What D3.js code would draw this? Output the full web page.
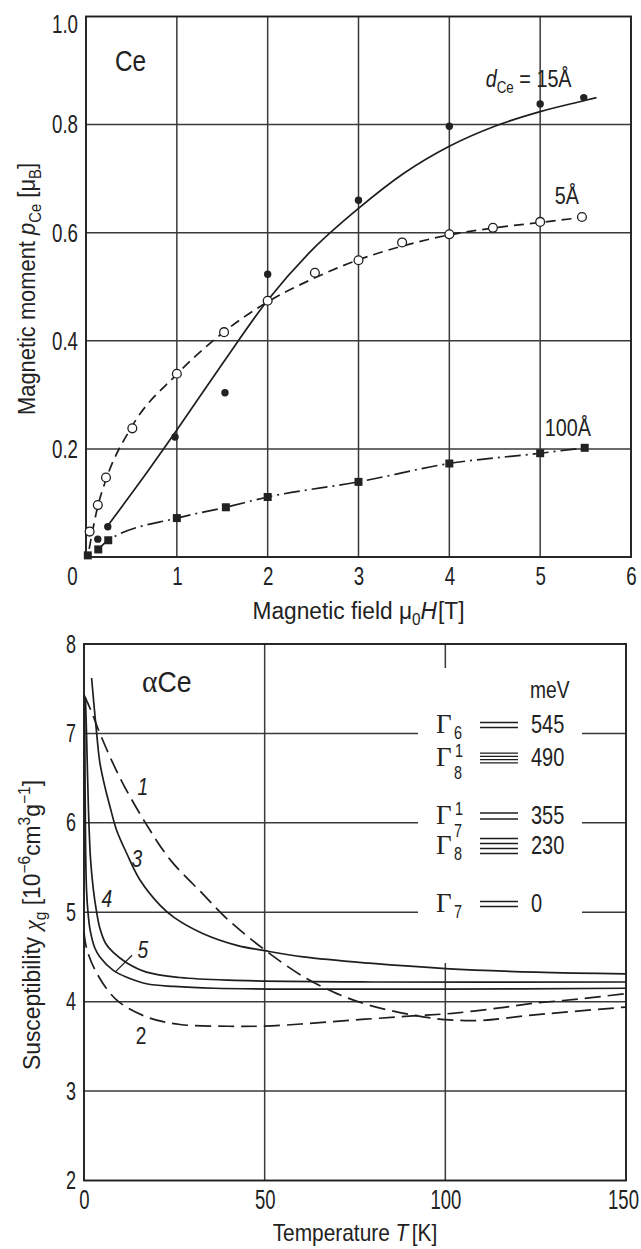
<!DOCTYPE html>
<html>
<head>
<meta charset="utf-8">
<script src="https://cdn.jsdelivr.net/npm/d3@7"></script>
<style>
  body { margin: 0; background: #fff; }
  svg text { font-family: "Liberation Sans", Arial, sans-serif; fill: #222; }
  svg text .serif, svg text.serif { font-family: "Liberation Serif", "DejaVu Serif", serif; }
</style>
</head>
<body>
<svg id="chart" width="641" height="1249"></svg>
<script>
// ---- top panel: Ce layers, moment vs field ----
const fieldTicks = [0, 1, 2, 3, 4, 5, 6];
const momentTicks = [0.2, 0.4, 0.6, 0.8, 1.0];

// d_Ce = 15 A, filled circles + solid fit
const d15H = [0.13, 0.24, 0.98, 1.53, 2, 3, 4, 5, 5.48];
const d15P = [0.033, 0.056, 0.222, 0.304, 0.523, 0.66, 0.797, 0.838, 0.85];
const d15FitH = [0.24, 0.6, 1, 1.5, 2, 2.5, 3, 3.5, 4, 4.5, 5, 5.5, 5.62];
const d15FitP = [0.058, 0.14, 0.235, 0.357, 0.475, 0.57, 0.645, 0.71, 0.76, 0.797, 0.824, 0.845, 0.85];

// d_Ce = 5 A, open circles + dashed fit
const d5H = [0.04, 0.13, 0.22, 0.51, 1, 1.52, 2, 2.52, 3, 3.48, 4, 4.48, 5, 5.46];
const d5P = [0.047, 0.096, 0.147, 0.238, 0.339, 0.416, 0.474, 0.526, 0.549, 0.582, 0.597, 0.609, 0.62, 0.629];
const d5FitH = [0.035, 0.13, 0.22, 0.5, 1, 1.5, 2, 2.5, 3, 3.5, 4, 4.5, 5, 5.46];
const d5FitP = [0.015, 0.094, 0.143, 0.24, 0.338, 0.414, 0.472, 0.515, 0.55, 0.576, 0.596, 0.609, 0.619, 0.628];

// d_Ce = 100 A, squares + dash-dot line
const d100H = [0.02, 0.135, 0.245, 1, 1.54, 2, 3, 4, 5, 5.49];
const d100P = [0.003, 0.014, 0.031, 0.072, 0.092, 0.111, 0.139, 0.173, 0.192, 0.202];

// ---- bottom panel: alpha-Ce susceptibility vs temperature ----
const tempTicks = [0, 50, 100, 150];
const chiTicks = [2, 3, 4, 5, 6, 7, 8];

const c1T = [0, 2, 4.4, 10, 17, 24, 33, 39.5, 50, 60.7, 70, 79, 91, 100, 110, 124, 150];
const c1X = [7.43, 7.25, 7.0, 6.5, 6.0, 5.58, 5.2, 4.93, 4.58, 4.28, 4.09, 3.96, 3.85, 3.80, 3.79, 3.85, 3.94];
const c2T = [0, 0.7, 3.5, 9, 17.3, 26.6, 40, 52, 68, 80, 91, 102, 115, 124, 137, 150];
const c2X = [4.78, 4.6, 4.32, 4.02, 3.83, 3.745, 3.725, 3.73, 3.775, 3.81, 3.84, 3.87, 3.93, 3.98, 4.03, 4.09];
const c3T = [2.1, 3.5, 4.4, 5.8, 7.2, 9, 11.8, 15.5, 21, 25, 33, 42.3, 50, 60.7, 79, 100, 125, 150];
const c3X = [7.62, 7.0, 6.67, 6.40, 6.18, 5.92, 5.66, 5.36, 5.08, 4.94, 4.76, 4.63, 4.57, 4.50, 4.43, 4.37, 4.33, 4.31];
const c4T = [0.4, 0.7, 1.2, 1.8, 2.6, 3.5, 4.4, 6, 8.1, 12, 17.3, 26.6, 40, 80, 150];
const c4X = [7.4, 7.0, 6.2, 5.6, 5.25, 5.0, 4.82, 4.65, 4.55, 4.43, 4.33, 4.27, 4.24, 4.22, 4.22];
const c5T = [0.2, 0.3, 0.45, 0.7, 1.1, 1.7, 3, 4.4, 8.1, 12, 17.3, 25, 36, 60, 100, 150];
const c5X = [7.35, 6.4, 5.7, 5.25, 5.0, 4.8, 4.6, 4.5, 4.35, 4.27, 4.2, 4.17, 4.15, 4.14, 4.14, 4.15];

// crystal-field level scheme (legend)
const levelSub = ["6", "8", "7", "8", "7"];
const levelSup = ["", "1", "1", "", ""];
const levelMeV = ["545", "490", "355", "230", "0"];
const levelDeg = [2, 4, 2, 4, 2];

const zip = (xs, ys) => xs.map((x, i) => [x, ys[i]]);

const svg = d3.select("#chart");
svg.append("rect").attr("width", 641).attr("height", 1249).attr("fill", "#fff");

const ink = "#1e1e1e";
const gridInk = "#3a3a3a";

// rich text helper: parts = [{t, it, sub, sup, serif, dx}]
function rich(parent, parts, size) {
  const t = parent.append("text").attr("font-size", size);
  let cur = 0;
  parts.forEach(p => {
    const shift = p.sub ? size * 0.28 : p.sup ? -size * 0.42 : 0;
    const s = t.append("tspan").text(p.t).attr("dy", shift - cur);
    cur = shift;
    if (p.dx) s.attr("dx", p.dx);
    if (p.sub || p.sup) s.attr("font-size", size * 0.68);
    if (p.it) s.attr("font-style", "italic");
    if (p.serif) s.attr("class", "serif");
  });
  return t;
}

// squeeze text horizontally about its anchor (the print uses a condensed face)
function condense(sel, s) {
  sel.each(function () {
    const t = d3.select(this);
    const x = +t.attr("x") || 0;
    const tr = t.attr("transform") || "";
    t.attr("transform", `${tr} translate(${x},0) scale(${s},1) translate(${-x},0)`);
  });
}

function drawFrame(x, y, xs, ys) {
  const g = svg.append("g");
  const [x0, x1] = x.range();
  const [y0, y1] = y.range();
  g.selectAll(".gv").data(xs).join("line")
    .attr("x1", d => x(d)).attr("x2", d => x(d))
    .attr("y1", y0).attr("y2", y1)
    .attr("stroke", gridInk).attr("stroke-width", 1.5);
  g.selectAll(".gh").data(ys).join("line")
    .attr("x1", x0).attr("x2", x1)
    .attr("y1", d => y(d)).attr("y2", d => y(d))
    .attr("stroke", gridInk).attr("stroke-width", 1.5);
  return g;
}

function drawBorder(x, y) {
  const [x0, x1] = x.range();
  const [y0, y1] = y.range();
  svg.append("rect")
    .attr("x", x0).attr("y", y1).attr("width", x1 - x0).attr("height", y0 - y1)
    .attr("fill", "none").attr("stroke", ink).attr("stroke-width", 1.9);
}

// ================= TOP PANEL =================
const xTop = d3.scaleLinear().domain([0, 6]).range([86, 631]);
const yTop = d3.scaleLinear().domain([0, 1]).range([557, 16.5]);

drawFrame(xTop, yTop, [1, 2, 3, 4, 5], [0.2, 0.4, 0.6, 0.8]);
drawBorder(xTop, yTop);

const lineTop = d3.line().x(d => xTop(d[0])).y(d => yTop(d[1])).curve(d3.curveMonotoneX);

svg.append("path").datum(zip(d15FitH, d15FitP)).attr("d", lineTop)
  .attr("fill", "none").attr("stroke", ink).attr("stroke-width", 1.7);
svg.append("path").datum(zip(d5FitH, d5FitP)).attr("d", lineTop)
  .attr("fill", "none").attr("stroke", ink).attr("stroke-width", 1.7)
  .attr("stroke-dasharray", "10,6");
svg.append("path").datum(zip(d100H.slice(1), d100P.slice(1))).attr("d", lineTop)
  .attr("fill", "none").attr("stroke", ink).attr("stroke-width", 1.7)
  .attr("stroke-dasharray", "16,5,2,5");

svg.append("g").selectAll("rect").data(zip(d100H, d100P)).join("rect")
  .attr("x", d => xTop(d[0]) - 4).attr("y", d => yTop(d[1]) - 4)
  .attr("width", 8).attr("height", 8).attr("fill", "#222");
svg.append("g").selectAll("circle").data(zip(d5H, d5P)).join("circle")
  .attr("cx", d => xTop(d[0])).attr("cy", d => yTop(d[1])).attr("r", 4.4)
  .attr("fill", "#fff").attr("stroke", ink).attr("stroke-width", 1.3);
svg.append("g").selectAll("circle").data(zip(d15H, d15P)).join("circle")
  .attr("cx", d => xTop(d[0])).attr("cy", d => yTop(d[1])).attr("r", 3.7)
  .attr("fill", "#222");

// ticks
const axTopX = svg.append("g").attr("transform", `translate(0,${yTop(0)})`)
  .call(d3.axisBottom(xTop).tickValues(fieldTicks).tickSize(0).tickPadding(10).tickFormat(d3.format("d")));
axTopX.select(".domain").remove();
axTopX.attr("font-size", 26).attr("font-family", null);
axTopX.selectAll(".tick").filter(d => d === 0).select("text").attr("x", -14);
condense(axTopX.selectAll("text"), 0.72);

const axTopY = svg.append("g").attr("transform", `translate(${xTop(0)},0)`)
  .call(d3.axisLeft(yTop).tickValues(momentTicks).tickSize(0).tickPadding(8).tickFormat(d3.format(".1f")));
axTopY.select(".domain").remove();
axTopY.attr("font-size", 26).attr("font-family", null);
axTopY.selectAll(".tick").filter(d => d === 1).select("text").attr("dy", 16);
condense(axTopY.selectAll("text"), 0.72);

// labels
condense(rich(svg, [{t: "Ce"}], 29).attr("x", 115).attr("y", 71), 0.84);
condense(rich(svg, [{t: "d", it: 1}, {t: "Ce", sub: 1}, {t: " = 15Å"}], 23)
  .attr("x", xTop(4.40)).attr("y", yTop(0.870)), 0.86);
condense(rich(svg, [{t: "5Å"}], 23).attr("x", xTop(5.16)).attr("y", yTop(0.653)), 0.86);
condense(rich(svg, [{t: "100Å"}], 23).attr("x", xTop(5.05)).attr("y", yTop(0.223)), 0.86);

rich(svg, [{t: "Magnetic field "}, {t: "μ"}, {t: "0", sub: 1}, {t: "H", it: 1}, {t: "[T]", dx: 1}], 23)
  .attr("x", (xTop(0) + xTop(6)) / 2).attr("y", 619).attr("text-anchor", "middle")
  .attr("textLength", 212).attr("lengthAdjust", "spacingAndGlyphs");
rich(svg, [{t: "Magnetic moment "}, {t: "p", it: 1}, {t: "Ce", sub: 1}, {t: " [μ"}, {t: "B", sub: 1}, {t: "]"}], 23)
  .attr("text-anchor", "middle")
  .attr("textLength", 252).attr("lengthAdjust", "spacingAndGlyphs")
  .attr("transform", "translate(35,289) rotate(-90)");

// ================= BOTTOM PANEL =================
const xBot = d3.scaleLinear().domain([0, 150]).range([84, 626]);
const yBot = d3.scaleLinear().domain([2, 8]).range([1180.5, 644]);

drawFrame(xBot, yBot, [50, 100], [3, 4, 5, 6, 7]);

// white patch behind the level scheme
svg.append("rect")
  .attr("x", 418).attr("y", 668).attr("width", 164).attr("height", 295)
  .attr("fill", "#fff");

drawBorder(xBot, yBot);

const lineBot = d3.line().x(d => xBot(d[0])).y(d => yBot(d[1])).curve(d3.curveCatmullRom.alpha(0.5));
const curves = [
  {t: c1T, v: c1X, dash: "16,7"},
  {t: c2T, v: c2X, dash: "16,7"},
  {t: c3T, v: c3X, dash: null},
  {t: c4T, v: c4X, dash: null},
  {t: c5T, v: c5X, dash: null}
];
svg.append("g").selectAll("path").data(curves).join("path")
  .attr("d", d => lineBot(zip(d.t, d.v)))
  .attr("fill", "none").attr("stroke", ink).attr("stroke-width", 1.7)
  .attr("stroke-dasharray", d => d.dash);

// curve numbers
const curveLabels = [
  {n: "1", t: 16.3, v: 6.40},
  {n: "3", t: 14.6, v: 5.60},
  {n: "4", t: 6.3, v: 5.15},
  {n: "5", t: 16.3, v: 4.58},
  {n: "2", t: 15.8, v: 3.62}
];
const numLab = svg.append("g").selectAll("text").data(curveLabels).join("text")
  .attr("x", d => xBot(d.t)).attr("y", d => yBot(d.v))
  .attr("text-anchor", "middle").attr("dominant-baseline", "central")
  .attr("font-size", 24).attr("font-style", d => d.n === "2" ? "normal" : "italic")
  .text(d => d.n);
condense(numLab, 0.8);
svg.append("line")
  .attr("x1", xBot(8.6)).attr("y1", yBot(4.33)).attr("x2", xBot(13.3)).attr("y2", yBot(4.52))
  .attr("stroke", ink).attr("stroke-width", 1.3);

// ticks
const axBotX = svg.append("g").attr("transform", `translate(0,${yBot(2)})`)
  .call(d3.axisBottom(xBot).tickValues(tempTicks).tickSize(0).tickPadding(9).tickFormat(d3.format("d")));
axBotX.select(".domain").remove();
axBotX.attr("font-size", 28).attr("font-family", null);
axBotX.selectAll(".tick").filter(d => d === 150).select("text").attr("x", -3);
condense(axBotX.selectAll("text"), 0.66);

const axBotY = svg.append("g").attr("transform", `translate(${xBot(0)},0)`)
  .call(d3.axisLeft(yBot).tickValues(chiTicks).tickSize(0).tickPadding(8).tickFormat(d3.format("d")));
axBotY.select(".domain").remove();
axBotY.attr("font-size", 25).attr("font-family", null);
condense(axBotY.selectAll("text"), 0.72);

// labels
const aCe = svg.append("text").attr("x", 142).attr("y", 692).attr("font-size", 29);
aCe.append("tspan").attr("class", "serif").attr("font-size", 32).text("α");
aCe.append("tspan").text("Ce");
condense(aCe, 0.92);

condense(rich(svg, [{t: "Temperature "}, {t: "T", it: 1}, {t: "[K]", dx: 4}], 24)
  .attr("x", (xBot(0) + xBot(150)) / 2).attr("y", 1241).attr("text-anchor", "middle"), 0.87);
rich(svg, [{t: "Susceptibility "}, {t: "χ", it: 1, serif: 1}, {t: "g", sub: 1}, {t: " [10"}, {t: "−6", sup: 1},
           {t: "cm"}, {t: "3", sup: 1}, {t: "g"}, {t: "−1", sup: 1}, {t: "]"}], 23)
  .attr("text-anchor", "middle")
  .attr("textLength", 290).attr("lengthAdjust", "spacingAndGlyphs")
  .attr("transform", "translate(40,925) rotate(-90)");

// level scheme
const rowBase = [733, 766, 824, 854, 912];
const rowGap = [5, 3.3, 6, 5, 5];
const leg = svg.append("g");
condense(leg.append("text").attr("x", 530).attr("y", 698).attr("font-size", 24).text("meV"), 0.8);
levelMeV.forEach((mev, i) => {
  const yb = rowBase[i];
  leg.append("text").attr("class", "serif").attr("x", 436).attr("y", yb).attr("font-size", 27).text("Γ");
  const both = levelSup[i] !== "";
  condense(leg.append("text").attr("x", 454).attr("y", yb + (both ? 13 : 6)).attr("font-size", 18).text(levelSub[i]), 0.8);
  if (both) condense(leg.append("text").attr("x", 455).attr("y", yb - 9).attr("font-size", 18).text(levelSup[i]), 0.8);
  const n = levelDeg[i];
  const mid = yb - 8;
  d3.range(n).forEach(k => {
    const yy = mid + (k - (n - 1) / 2) * rowGap[i];
    leg.append("line").attr("x1", 480).attr("x2", 518).attr("y1", yy).attr("y2", yy)
      .attr("stroke", ink).attr("stroke-width", 1.3);
  });
  condense(leg.append("text").attr("x", 531).attr("y", yb).attr("font-size", 25).text(mev), 0.8);
});
</script>
</body>
</html>
